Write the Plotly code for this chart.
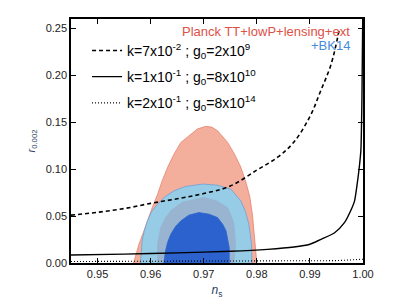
import plotly.graph_objects as go

# ---- data ----
salmon_ns = [0.9568, 0.9573, 0.9578, 0.9586, 0.9594, 0.9603, 0.9613, 0.9622, 0.9632, 0.9644,
             0.9657, 0.9669, 0.9688, 0.9704, 0.9715, 0.9726, 0.9745, 0.9758, 0.9770, 0.9780,
             0.9787, 0.9792, 0.9795, 0.9798, 0.9800]
salmon_r = [0.0, 0.010, 0.020, 0.032, 0.045, 0.059, 0.073, 0.088, 0.102, 0.116,
            0.1285, 0.134, 0.1428, 0.1456, 0.1448, 0.141, 0.1285, 0.116, 0.102, 0.085,
            0.070, 0.050, 0.031, 0.015, 0.0]

lblue_ns = [0.9581, 0.9582, 0.9584, 0.9588, 0.9594, 0.9602, 0.9613, 0.9628, 0.9644, 0.9665,
            0.9698, 0.9725, 0.9751, 0.9770, 0.9779, 0.9785, 0.9790, 0.9791]
lblue_r = [0.0, 0.012, 0.0235, 0.034, 0.045, 0.055, 0.0627, 0.071, 0.0769, 0.0815,
           0.0841, 0.083, 0.0787, 0.0662, 0.054, 0.0413, 0.020, 0.0]

grey_ns = [0.9613, 0.9613, 0.9619, 0.9628, 0.9638, 0.9660, 0.9701, 0.9725, 0.9745, 0.9752,
           0.9757, 0.9760, 0.9757]
grey_r = [0.0, 0.020, 0.0377, 0.048, 0.0556, 0.065, 0.0698, 0.066, 0.059, 0.050,
          0.0413, 0.020, 0.0]

dblue_ns = [0.9625, 0.9628, 0.9632, 0.9638, 0.9647, 0.9657, 0.9672, 0.9691, 0.9710, 0.9726,
            0.9736, 0.9742, 0.9748, 0.9748]
dblue_r = [0.0, 0.0128, 0.022, 0.0307, 0.039, 0.0449, 0.051, 0.0537, 0.052, 0.0484,
           0.041, 0.0342, 0.0164, 0.0]

dash_ns = [0.945, 0.950, 0.955, 0.960, 0.965, 0.970, 0.975, 0.980, 0.984, 0.987,
           0.990, 0.992, 0.994, 0.9955]
dash_r = [0.051, 0.054, 0.058, 0.0635, 0.0685, 0.074, 0.082, 0.099, 0.113, 0.129,
          0.156, 0.183, 0.212, 0.248]

solid_ns = [0.945, 0.955, 0.965, 0.975, 0.982, 0.987, 0.990, 0.992, 0.9946, 0.9965,
            0.9977, 0.9984, 0.9989, 0.9993, 0.9996, 0.9998, 0.99995]
solid_r = [0.0085, 0.0095, 0.0108, 0.0125, 0.0145, 0.017, 0.020, 0.025, 0.032, 0.043,
           0.056, 0.066, 0.084, 0.102, 0.120, 0.175, 0.26]

dot_ns = [0.945, 0.960, 0.980, 0.995, 1.0]
dot_r = [0.0016, 0.0017, 0.0019, 0.0025, 0.004]

labels = ["k=7x10<sup>-2</sup> ; g<sub>0</sub>=2x10<sup>9</sup>",
          "k=1x10<sup>-1</sup> ; g<sub>0</sub>=8x10<sup>10</sup>",
          "k=2x10<sup>-1</sup> ; g<sub>0</sub>=8x10<sup>14</sup>"]

x_ticks = [0.95, 0.96, 0.97, 0.98, 0.99, 1.00]
y_ticks = [0.00, 0.05, 0.10, 0.15, 0.20, 0.25]

fig = go.Figure()

def region(xs, ys, fill, edge):
    fig.add_trace(go.Scatter(x=xs, y=ys, mode="lines", fill="toself", fillcolor=fill,
                             line=dict(color=edge, width=0.8), showlegend=False,
                             hoverinfo="skip"))

region(salmon_ns, salmon_r, "rgb(243,174,156)", "rgb(228,130,110)")
region(lblue_ns, lblue_r, "rgb(150,204,230)", "rgb(110,160,215)")
region(grey_ns, grey_r, "rgb(152,180,208)", "rgb(152,180,208)")
region(dblue_ns, dblue_r, "rgb(44,98,205)", "rgb(44,98,205)")

fig.add_trace(go.Scatter(x=dash_ns, y=dash_r, mode="lines", name=labels[0],
                         line=dict(color="black", width=1.6, dash="4px,3px", shape="spline"),
                         legendgroup="a"))
fig.add_trace(go.Scatter(x=solid_ns, y=solid_r, mode="lines", name=labels[1],
                         line=dict(color="black", width=1.4, shape="spline", smoothing=0.6),
                         legendgroup="b"))
fig.add_trace(go.Scatter(x=dot_ns, y=dot_r, mode="lines", name=labels[2],
                         line=dict(color="black", width=1.1, dash="1px,2px"),
                         legendgroup="c"))

fig.add_annotation(x=0.962, y=0.947, xref="paper", yref="paper", xanchor="right",
                   yanchor="middle", showarrow=False, text="Planck TT+lowP+lensing+ext",
                   font=dict(family="Liberation Sans", size=13, color="rgb(222,80,72)"))
fig.add_annotation(x=0.962, y=0.893, xref="paper", yref="paper", xanchor="right",
                   yanchor="middle", showarrow=False, text="+BK14",
                   font=dict(family="Liberation Sans", size=13, color="rgb(70,140,220)"))

axis_common = dict(showline=True, linecolor="black", linewidth=1.5, mirror="ticks",
                   ticks="inside", ticklen=5, tickcolor="black", showgrid=False,
                   zeroline=False, automargin=False,
                   tickfont=dict(family="Liberation Sans", size=11, color="#222"))

fig.update_xaxes(range=[0.945, 1.0], tickvals=x_ticks, ticktext=[f"{v:.2f}" for v in x_ticks],
                 title=dict(text="<i>n</i><sub>s</sub>", font=dict(family="Liberation Sans", size=12),
                            standoff=8),
                 **axis_common)
fig.update_yaxes(range=[0.0, 0.26], tickvals=y_ticks, ticktext=[f"{v:.2f}" for v in y_ticks],
                 title=dict(text="<i>r</i><sub>0.002</sub>", font=dict(family="Liberation Sans", size=11),
                            standoff=8),
                 **axis_common)

# page body has an 8px margin: size the figure so the plot area lands where the reference has it
fig.update_layout(
    width=394, height=291,
    margin=dict(l=63, r=39, t=11, b=36),
    paper_bgcolor="white", plot_bgcolor="white",
    showlegend=True,
    legend=dict(x=0.055, y=0.935, xanchor="left", yanchor="top", bgcolor="rgba(0,0,0,0)",
                font=dict(family="Liberation Sans", size=14, color="black"),
                tracegroupgap=5, itemwidth=30),
)

fig.write_html("out.html")
